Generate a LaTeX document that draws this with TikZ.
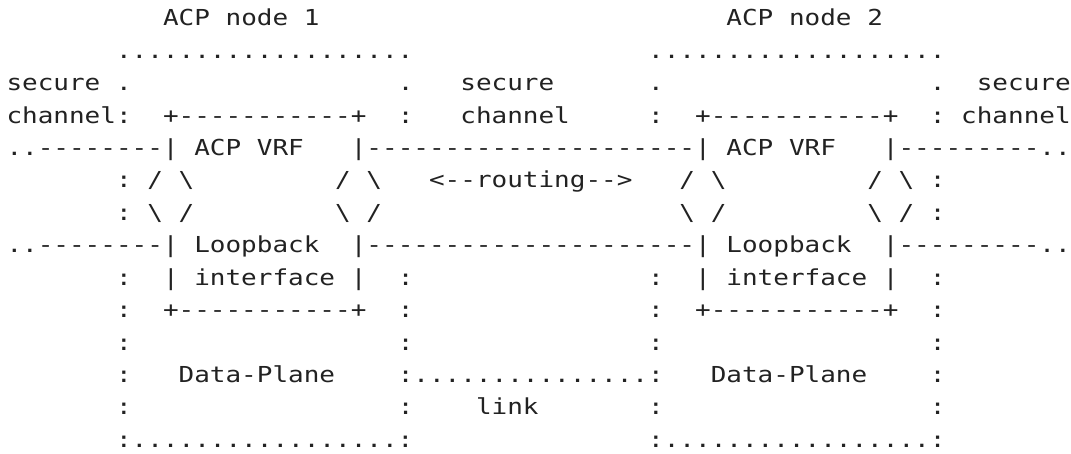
\documentclass[tikz,border=0pt]{standalone}
\usepackage{fontspec}
\setmonofont[FakeStretch=1.1816]{DejaVu Sans Mono}
\definecolor{ink}{HTML}{222222}
\tikzset{txt/.style={anchor=base west, inner sep=0pt, outer sep=0pt, text=ink,
  font=\ttfamily\fontsize{22}{26}\selectfont}}
% column, row, text
\newcommand\tx[3]{\node[txt] (r#2c#1) at ({6.5+15.65*#1},{-26-32.4*#2}) {#3};}
\newcommand\bs{\textbackslash}
\begin{document}
\begin{tikzpicture}[x=1pt,y=1pt]
\useasboundingbox[fill=white] (0,0) rectangle (1071,-454);
% row 0
\tx{10}{0}{ACP}\tx{14}{0}{node}\tx{19}{0}{1}
\tx{46}{0}{ACP}\tx{50}{0}{node}\tx{55}{0}{2}
% row 1
\tx{7}{1}{...................}
\tx{41}{1}{...................}
% row 2
\tx{0}{2}{secure}\tx{7}{2}{.}\tx{25}{2}{.}\tx{29}{2}{secure}
\tx{41}{2}{.}\tx{59}{2}{.}\tx{62}{2}{secure}
% row 3
\tx{0}{3}{channel:}\tx{10}{3}{+-----------+}\tx{25}{3}{:}\tx{29}{3}{channel}
\tx{41}{3}{:}\tx{44}{3}{+-----------+}\tx{59}{3}{:}\tx{61}{3}{channel}
% row 4
\tx{0}{4}{..--------|}\tx{12}{4}{ACP}\tx{16}{4}{VRF}
\tx{22}{4}{|---------------------|}\tx{46}{4}{ACP}\tx{50}{4}{VRF}
\tx{56}{4}{|---------..}
% row 5
\tx{7}{5}{:}\tx{9}{5}{/}\tx{11}{5}{\bs}\tx{21}{5}{/}\tx{23}{5}{\bs}
\tx{27}{5}{<--routing-->}
\tx{43}{5}{/}\tx{45}{5}{\bs}\tx{55}{5}{/}\tx{57}{5}{\bs}\tx{59}{5}{:}
% row 6
\tx{7}{6}{:}\tx{9}{6}{\bs}\tx{11}{6}{/}\tx{21}{6}{\bs}\tx{23}{6}{/}
\tx{43}{6}{\bs}\tx{45}{6}{/}\tx{55}{6}{\bs}\tx{57}{6}{/}\tx{59}{6}{:}
% row 7
\tx{0}{7}{..--------|}\tx{12}{7}{Loopback}
\tx{22}{7}{|---------------------|}\tx{46}{7}{Loopback}
\tx{56}{7}{|---------..}
% row 8
\tx{7}{8}{:}\tx{10}{8}{|}\tx{12}{8}{interface}\tx{22}{8}{|}\tx{25}{8}{:}
\tx{41}{8}{:}\tx{44}{8}{|}\tx{46}{8}{interface}\tx{56}{8}{|}\tx{59}{8}{:}
% row 9
\tx{7}{9}{:}\tx{10}{9}{+-----------+}\tx{25}{9}{:}
\tx{41}{9}{:}\tx{44}{9}{+-----------+}\tx{59}{9}{:}
% row 10
\tx{7}{10}{:}\tx{25}{10}{:}\tx{41}{10}{:}\tx{59}{10}{:}
% row 11
\tx{7}{11}{:}\tx{11}{11}{Data-Plane}\tx{25}{11}{:...............:}
\tx{45}{11}{Data-Plane}\tx{59}{11}{:}
% row 12
\tx{7}{12}{:}\tx{25}{12}{:}\tx{30}{12}{link}\tx{41}{12}{:}\tx{59}{12}{:}
% row 13
\tx{7}{13}{:.................:}
\tx{41}{13}{:.................:}
\end{tikzpicture}
\end{document}
